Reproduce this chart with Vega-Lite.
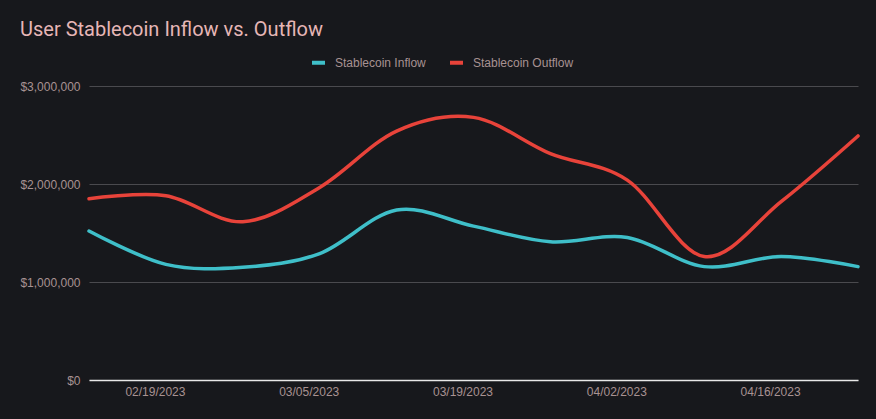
{
  "$schema": "https://vega.github.io/schema/vega-lite/v6.json",
  "width": 769,
  "height": 294,
  "autosize": {"type": "none"},
  "padding": {"left": 89, "top": 86, "right": 18, "bottom": 39},
  "background": "#17181c",
  "title": {
    "text": "User Stablecoin Inflow vs. Outflow",
    "anchor": "start",
    "frame": "group",
    "orient": "top",
    "color": "#e6b6b6",
    "font": "Roboto",
    "fontSize": 20,
    "fontWeight": "normal",
    "dx": -69,
    "offset": 14
  },
  "config": {
    "view": {"stroke": null},
    "font": "Liberation Sans"
  },
  "data": {
    "values": [
      {"date": "2023-02-13T00:00:00", "series": "Stablecoin Inflow", "value": 1520000},
      {"date": "2023-02-20T00:00:00", "series": "Stablecoin Inflow", "value": 1180000},
      {"date": "2023-02-27T00:00:00", "series": "Stablecoin Inflow", "value": 1150000},
      {"date": "2023-03-06T00:00:00", "series": "Stablecoin Inflow", "value": 1290000},
      {"date": "2023-03-13T00:00:00", "series": "Stablecoin Inflow", "value": 1735000},
      {"date": "2023-03-20T00:00:00", "series": "Stablecoin Inflow", "value": 1570000},
      {"date": "2023-03-27T00:00:00", "series": "Stablecoin Inflow", "value": 1410000},
      {"date": "2023-04-03T00:00:00", "series": "Stablecoin Inflow", "value": 1455000},
      {"date": "2023-04-10T00:00:00", "series": "Stablecoin Inflow", "value": 1157000},
      {"date": "2023-04-17T00:00:00", "series": "Stablecoin Inflow", "value": 1260000},
      {"date": "2023-04-24T00:00:00", "series": "Stablecoin Inflow", "value": 1157000},
      {"date": "2023-02-13T00:00:00", "series": "Stablecoin Outflow", "value": 1850000},
      {"date": "2023-02-20T00:00:00", "series": "Stablecoin Outflow", "value": 1880000},
      {"date": "2023-02-27T00:00:00", "series": "Stablecoin Outflow", "value": 1615000},
      {"date": "2023-03-06T00:00:00", "series": "Stablecoin Outflow", "value": 1965000},
      {"date": "2023-03-13T00:00:00", "series": "Stablecoin Outflow", "value": 2540000},
      {"date": "2023-03-20T00:00:00", "series": "Stablecoin Outflow", "value": 2680000},
      {"date": "2023-03-27T00:00:00", "series": "Stablecoin Outflow", "value": 2310000},
      {"date": "2023-04-03T00:00:00", "series": "Stablecoin Outflow", "value": 2040000},
      {"date": "2023-04-10T00:00:00", "series": "Stablecoin Outflow", "value": 1260000},
      {"date": "2023-04-17T00:00:00", "series": "Stablecoin Outflow", "value": 1820000},
      {"date": "2023-04-24T00:00:00", "series": "Stablecoin Outflow", "value": 2490000}
    ]
  },
  "mark": {"type": "line", "interpolate": "cardinal", "strokeWidth": 3.5, "strokeCap": "round"},
  "encoding": {
    "x": {
      "field": "date",
      "type": "temporal",
      "title": null,
      "scale": {"nice": false},
      "axis": {
        "values": [
          {"year": 2023, "month": 2, "date": 19},
          {"year": 2023, "month": 3, "date": 5},
          {"year": 2023, "month": 3, "date": 19},
          {"year": 2023, "month": 4, "date": 2},
          {"year": 2023, "month": 4, "date": 16}
        ],
        "format": "%m/%d/%Y",
        "labelColor": "#a89292",
        "labelFontSize": 12,
        "labelPadding": 6,
        "ticks": false,
        "grid": false,
        "domain": true,
        "domainColor": "#e8e8e8",
        "domainWidth": 1.5
      }
    },
    "y": {
      "field": "value",
      "type": "quantitative",
      "title": null,
      "scale": {"domain": [0, 3000000], "nice": false},
      "axis": {
        "values": [0, 1000000, 2000000, 3000000],
        "format": "$,.0f",
        "labelColor": "#a89292",
        "labelFontSize": 12,
        "labelPadding": 9,
        "ticks": false,
        "domain": false,
        "grid": true,
        "gridColor": "#4a4a4e",
        "gridWidth": 1
      }
    },
    "color": {
      "field": "series",
      "type": "nominal",
      "scale": {
        "domain": ["Stablecoin Inflow", "Stablecoin Outflow"],
        "range": ["#3fbfc9", "#e8433a"]
      },
      "legend": {
        "title": null,
        "orient": "none",
        "direction": "horizontal",
        "legendX": 221,
        "legendY": -32,
        "symbolType": "stroke",
        "symbolStrokeWidth": 4,
        "symbolSize": 169,
        "labelColor": "#a89292",
        "labelFontSize": 12,
        "labelOffset": 8,
        "columnPadding": 16
      }
    }
  }
}
